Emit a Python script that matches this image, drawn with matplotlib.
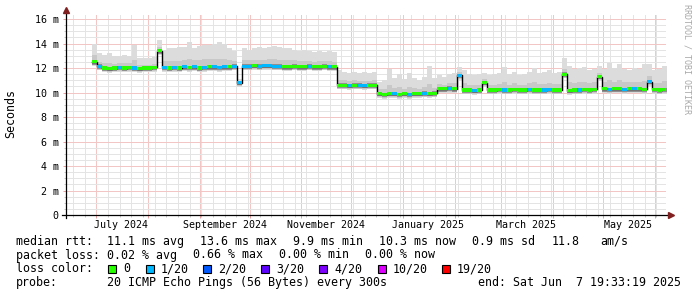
import numpy as np
import pandas as pd
import matplotlib
matplotlib.use('Agg')
from matplotlib import pyplot as plt
import matplotlib.dates as mdates
from matplotlib.ticker import MultipleLocator, FuncFormatter, NullFormatter

### Data (one sample every 3 days)
sample_start = '2024-06-28 12:00'

median_ms = [12.5, 12.15, 12.0, 11.95, 12.0, 12.05, 12.0, 12.05, 12.0, 11.95,
             12.0, 12.0, 12.05, 13.4, 12.05, 12.0, 12.05, 12.0, 12.1, 12.05,
             12.1, 12.0, 12.05, 12.1, 12.1, 12.05, 12.1, 12.1, 12.15, 10.8,
             12.15, 12.15, 12.2, 12.15, 12.2, 12.2, 12.15, 12.15, 12.1, 12.1,
             12.15, 12.1, 12.1, 12.15, 12.1, 12.1, 12.15, 12.1, 12.1, 10.6,
             10.6, 10.55, 10.6, 10.6, 10.55, 10.6, 10.6, 9.9, 9.85, 9.9,
             9.9, 9.85, 9.9, 9.85, 9.9, 9.9, 9.95, 9.9, 9.95, 10.3,
             10.3, 10.35, 10.3, 11.4, 10.2, 10.2, 10.15, 10.2, 10.8, 10.2,
             10.2, 10.25, 10.2, 10.2, 10.25, 10.2, 10.2, 10.25, 10.2, 10.2,
             10.2, 10.25, 10.2, 10.2, 11.5, 10.15, 10.2, 10.2, 10.25, 10.2,
             10.25, 11.3, 10.3, 10.25, 10.3, 10.3, 10.25, 10.3, 10.3, 10.3,
             10.25, 10.9, 10.25, 10.2, 10.25]

smoke_max_ms = [14.0, 13.2, 13.1, 13.2, 13.0, 13.0, 13.1, 13.0, 13.9, 12.8,
                12.8, 12.8, 12.9, 14.3, 13.5, 13.6, 13.6, 13.7, 13.7, 14.1,
                13.6, 13.8, 13.9, 13.9, 14.0, 14.1, 14.0, 13.6, 13.4, 11.1,
                13.6, 13.5, 13.6, 13.7, 13.6, 13.7, 13.8, 13.7, 13.6, 13.6,
                13.5, 13.4, 13.5, 13.4, 13.3, 13.4, 13.3, 13.4, 13.3, 11.8,
                11.7, 11.6, 11.7, 11.6, 11.7, 11.6, 11.7, 10.9, 11.0, 11.9,
                11.2, 11.5, 11.1, 11.6, 11.2, 11.0, 11.3, 12.2, 11.2, 11.4,
                11.3, 11.5, 11.6, 12.1, 11.8, 11.5, 11.4, 11.5, 11.6, 11.4,
                11.5, 11.6, 12.1, 11.5, 11.7, 11.4, 11.5, 11.7, 12.0, 11.6,
                11.7, 11.8, 11.6, 11.7, 12.8, 12.2, 11.9, 12.0, 12.1, 11.8,
                11.9, 12.2, 11.9, 12.4, 12.0, 12.3, 11.9, 11.8, 12.0, 11.9,
                12.3, 12.3, 11.8, 11.9, 12.2]

# lost pings out of 20 per sample
loss = [0, 1, 0, 0, 0, 1, 0, 0, 1, 0,
        0, 0, 0, 0, 1, 0, 1, 0, 1, 0,
        1, 0, 1, 0, 1, 1, 1, 0, 1, 1,
        1, 1, 0, 1, 1, 1, 1, 1, 0, 0,
        0, 0, 0, 1, 0, 0, 0, 1, 0, 0,
        0, 1, 0, 1, 1, 0, 0, 0, 0, 0,
        1, 0, 0, 1, 0, 0, 1, 0, 0, 0,
        0, 1, 0, 1, 0, 0, 1, 0, 0, 0,
        0, 0, 1, 0, 0, 0, 0, 1, 0, 0,
        1, 1, 0, 0, 0, 0, 0, 1, 0, 0,
        0, 0, 0, 1, 0, 0, 1, 0, 1, 0,
        0, 1, 0, 0, 0]

loss_levels = [0, 1, 2, 3, 4, 10, 19]
loss_labels = ['0', '1/20', '2/20', '3/20', '4/20', '10/20', '19/20']
loss_colors = ['#26ff00', '#00b8ff', '#0059ff', '#5e00ff', '#7e00ff', '#dd00ff', '#ff0000']

month_labels = ['July 2024', 'September 2024', 'November 2024',
                'January 2025', 'March 2025', 'May 2025']
month_label_dates = ['2024-07-16', '2024-09-16', '2024-11-16',
                     '2025-01-16', '2025-03-16', '2025-05-16']

t_start = '2024-06-12 19:33:19'
t_end = '2025-06-07 19:33:19'

### Plot settings
plt.rcParams['font.family'] = ['DejaVu Sans Mono']
plt.rcParams['font.size'] = 8.4
axis_fs = 7.2

W, H = 697, 297
fig = plt.figure(figsize=(W / 100, H / 100), dpi=100)
fig.patch.set_facecolor('white')
ax = fig.add_axes([66 / W, 82 / H, 600 / W, 200 / H])

t = pd.date_range(sample_start, periods=len(median_ms), freq='3D')
x = mdates.date2num(t)
step = 3.0
xe = np.append(x, x[-1] + step)
med = np.array(median_ms)
top = np.array(smoke_max_ms)


def ext(a):
	return np.append(a, a[-1])


# Smoke (ping spread) - light outer, darker near the median
ax.fill_between(xe, ext(med - 0.35), ext(top), step='post', color='#dcdcdc', lw=0, zorder=2)
ax.fill_between(xe, ext(med - 0.28), ext(med + 0.35 * (top - med)), step='post', color='#c8c8c8', lw=0, zorder=3)
ax.fill_between(xe, ext(med - 0.22), ext(med + 0.15), step='post', color='#909090', lw=0, zorder=4)

# Median line, black connector + loss coloured blocks
ax.step(xe, ext(med), where='post', color='black', lw=1.0, zorder=5)
clr = [loss_colors[loss_levels.index(l)] for l in loss]
ax.bar(x, 0.26, bottom=med - 0.13, width=step, align='edge', color=clr, lw=0, zorder=6)

### Axes
ax.set_xlim(mdates.datestr2num(t_start), mdates.datestr2num(t_end))
ax.set_ylim(0, 16.33)

ax.xaxis.set_major_locator(mdates.MonthLocator())
ax.xaxis.set_minor_locator(mdates.WeekdayLocator(byweekday=mdates.MO))
ax.xaxis.set_major_formatter(NullFormatter())
ax.yaxis.set_major_locator(MultipleLocator(2))
ax.yaxis.set_minor_locator(MultipleLocator(0.5))
ax.yaxis.set_major_formatter(FuncFormatter(lambda v, p: '0' if v == 0 else '%d m' % v))

# dotted rrdtool grid, drawn as its blended tone
grid_minor = '#e4e4e4'
grid_major = '#f3c6c6'
ax.set_axisbelow(True)
ax.grid(which='minor', color=grid_minor, linestyle='-', linewidth=0.72)
ax.grid(which='major', color=grid_major, linestyle='-', linewidth=0.72)

ax.tick_params(axis='x', which='major', length=2.2, width=0.72, color='#e8a0a0', direction='out')
ax.tick_params(axis='x', which='minor', length=1.5, width=0.72, color='#c8c8c8', direction='out')
ax.tick_params(axis='y', which='major', length=2.2, width=0.72, color='#e8a0a0', pad=3, labelsize=axis_fs)
ax.tick_params(axis='y', which='minor', length=1.5, width=0.72, color='#c8c8c8')

for s in ax.spines.values():
	s.set_visible(False)

# Axis lines with arrows
arrow_clr = '#802020'
ax.plot([0, 0], [-0.015, 1.025], transform=ax.transAxes, color='black', lw=0.9, clip_on=False, zorder=7)
ax.plot([-0.007, 1.008], [0, 0], transform=ax.transAxes, color='black', lw=0.9, clip_on=False, zorder=7)
ax.plot([0], [1.027], marker='^', ms=4, color=arrow_clr, transform=ax.transAxes, clip_on=False, zorder=8)
ax.plot([1.009], [0], marker='>', ms=4, color=arrow_clr, transform=ax.transAxes, clip_on=False, zorder=8)

# Month labels centred mid-month
for d, lab in zip(month_label_dates, month_labels):
	ax.text(mdates.datestr2num(d), -0.048, lab, transform=ax.get_xaxis_transform(),
		ha='center', va='center', fontsize=axis_fs)


def px(xp, yp):
	return xp / W, 1 - yp / H


fig.text(*px(11, 114), 'Seconds', rotation=90, ha='center', va='center', fontsize=8.4)
fig.text(*px(687, 59), 'RRDTOOL / TOBI OETIKER', rotation=270, ha='center', va='center',
	fontsize=6.0, color='#a8a8a8')

### Legend rows
rows = [
	(241.5, [(16, 'median rtt:'), (107, '11.1 ms avg'), (200.5, '13.6 ms max'), (293, '9.9 ms min'),
		(379, '10.3 ms now'), (472, '0.9 ms sd'), (551.5, '11.8'), (600, 'am/s')]),
	(255, [(16, 'packet loss:'), (107, '0.02 % avg'), (193, '0.66 % max'), (279, '0.00 % min'),
		(365, '0.00 % now')]),
	(282.5, [(16, 'probe:'), (107, '20 ICMP Echo Pings (56 Bytes) every 300s'),
		(478, 'end: Sat Jun  7 19:33:19 2025')]),
]
for yp, items in rows:
	for xp, s in items:
		fig.text(*px(xp, yp), s, ha='left', va='center', fontsize=8.4)

fig.text(*px(16, 269), 'loss color:', ha='left', va='center', fontsize=8.4)
box_x = [108, 146, 203, 261, 319, 378, 442]
for bx, lab, c in zip(box_x, loss_labels, loss_colors):
	fig.patches.append(plt.Rectangle((bx / W, 1 - 273 / H), 8 / W, 8 / H, transform=fig.transFigure,
		facecolor=c, edgecolor='black', lw=0.8, figure=fig))
	fig.text(*px(bx + 15, 269), lab, ha='left', va='center', fontsize=8.4)

plt.savefig('out.png', dpi=100, facecolor='white')
